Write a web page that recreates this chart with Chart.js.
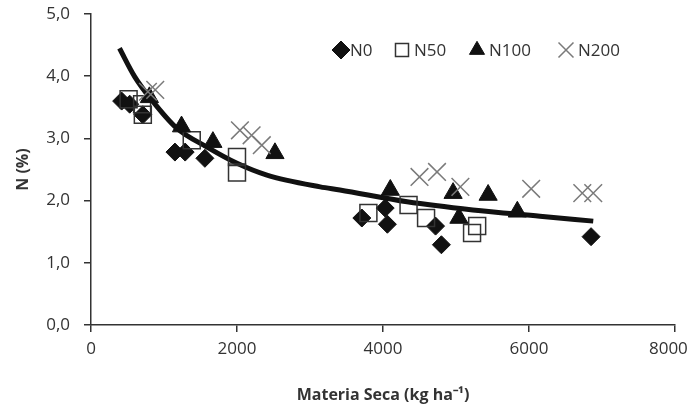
<!DOCTYPE html>
<html>
<head>
<meta charset="utf-8">
<title>N (%) vs Materia Seca</title>
<script src="https://cdn.jsdelivr.net/npm/chart.js@4.4.0/dist/chart.umd.min.js"></script>
<style>
    html, body { margin: 0; padding: 0; background: #fff; }
    #wrap { width: 689px; height: 416px; }
</style>
</head>
<body>
<div id="wrap"><canvas id="chart" width="689" height="416"></canvas></div>
<script>
// Datos (materia seca en kg/ha, N en %)
const n0X = [420, 530, 710, 1150, 1290, 1560, 3710, 4030, 4060, 4720, 4800, 6850];
const n0Y = [3.60, 3.55, 3.38, 2.78, 2.78, 2.68, 1.72, 1.88, 1.62, 1.59, 1.29, 1.42];

const n50X = [515, 700, 710, 1380, 2000, 2000, 3800, 4350, 4590, 5220, 5290];
const n50Y = [3.63, 3.55, 3.38, 2.97, 2.70, 2.45, 1.80, 1.93, 1.72, 1.48, 1.59];

const n100X = [800, 1240, 1670, 2520, 4100, 4960, 5040, 5440, 5840];
const n100Y = [3.66, 3.19, 2.94, 2.76, 2.17, 2.12, 1.72, 2.09, 1.82];

const n200X = [780, 880, 2040, 2200, 2340, 4500, 4740, 5060, 6030, 6730, 6880];
const n200Y = [3.75, 3.78, 3.13, 3.05, 2.89, 2.38, 2.46, 2.22, 2.19, 2.12, 2.12];

// Curva de dilución (leída punto a punto sobre la línea)
const curveX = [390, 600, 830, 1170, 1590, 2000, 2410, 3140, 3410, 4330, 5230, 6150, 6880];
const curveY = [4.45, 3.99, 3.62, 3.17, 2.86, 2.60, 2.41, 2.22, 2.17, 1.98, 1.85, 1.75, 1.67];

const seriesNames = ['N0', 'N50', 'N100', 'N200'];
const xTicks = [0, 2000, 4000, 6000, 8000];
const yTicks = [0, 1, 2, 3, 4, 5];

function toPoints(xs, ys) {
    return xs.map(function(x, i) { return { x: x, y: ys[i] }; });
}

const textColor = '#333';
const axisColor = '#333';

// Leyenda dibujada a mano dentro del área del gráfico
const legendPos = [
    { mx: 341, tx: 350, r: 9 },
    { mx: 402, tx: 414, r: 9.2 },
    { mx: 477, tx: 489, r: 8.7 },
    { mx: 566, tx: 578, r: 10.6 }
];

const insideLegend = {
    id: 'insideLegend',
    afterDraw: function(chart) {
        const ctx = chart.ctx;
        const y = 50;
        ctx.save();
        seriesNames.forEach(function(name, i) {
            const ds = chart.data.datasets.find(function(d) { return d.label === name; });
            const p = legendPos[i];
            ctx.fillStyle = ds.backgroundColor;
            ctx.strokeStyle = ds.borderColor;
            ctx.lineWidth = ds.borderWidth;
            Chart.helpers.drawPoint(ctx, { pointStyle: ds.pointStyle, radius: p.r, borderWidth: ds.borderWidth }, p.mx, y);
            ctx.fillStyle = textColor;
            ctx.font = '17px "Open Sans"';
            ctx.textBaseline = 'middle';
            ctx.textAlign = 'left';
            ctx.fillText(name, p.tx, y + 1);
        });
        ctx.restore();
    }
};

const ctx = document.getElementById('chart').getContext('2d');

new Chart(ctx, {
    type: 'scatter',
    data: {
        datasets: [
            {
                label: 'N200',
                data: toPoints(n200X, n200Y),
                pointStyle: 'crossRot',
                pointRadius: 12.5,
                borderColor: '#7a7a7a',
                backgroundColor: '#7a7a7a',
                borderWidth: 1.5,
                order: 0
            },
            {
                label: 'N100',
                data: toPoints(n100X, n100Y),
                pointStyle: 'triangle',
                pointRadius: 10.5,
                borderColor: '#111',
                backgroundColor: '#111',
                borderWidth: 1,
                order: 1
            },
            {
                label: 'N50',
                data: toPoints(n50X, n50Y),
                pointStyle: 'rect',
                pointRadius: 12,
                borderColor: '#333',
                backgroundColor: 'rgba(0,0,0,0)',
                borderWidth: 1.5,
                order: 2
            },
            {
                label: 'N0',
                data: toPoints(n0X, n0Y),
                pointStyle: 'rectRot',
                pointRadius: 9,
                borderColor: '#111',
                backgroundColor: '#111',
                borderWidth: 1,
                order: 3
            },
            {
                label: 'curva',
                data: toPoints(curveX, curveY),
                showLine: true,
                borderColor: '#111',
                backgroundColor: '#111',
                borderWidth: 5,
                pointRadius: 0,
                cubicInterpolationMode: 'monotone',
                order: 4
            }
        ]
    },
    options: {
        responsive: false,
        animation: false,
        devicePixelRatio: 1,
        layout: { padding: { top: 14, right: 14, bottom: 0, left: 0 } },
        plugins: {
            legend: { display: false },
            tooltip: { enabled: false }
        },
        scales: {
            x: {
                type: 'linear',
                min: 0,
                max: 8000,
                afterBuildTicks: function(s) { s.ticks = xTicks.map(function(v) { return { value: v }; }); },
                afterFit: function(s) { s.height = 91; s.paddingLeft = 0; s.paddingRight = 0; },
                ticks: {
                    color: textColor,
                    font: { family: 'Open Sans', size: 17 },
                    padding: 7,
                    maxRotation: 0,
                    callback: function(v) { return v === 8000 ? '8000   ' : String(v); }
                },
                grid: { drawOnChartArea: false, drawTicks: true, tickLength: 7, color: axisColor, lineWidth: 1.5 },
                border: { display: true, color: axisColor, width: 1.5 },
                title: {
                    display: true,
                    text: 'Materia Seca (kg ha⁻¹)',
                    color: textColor,
                    font: { family: 'Open Sans', size: 16, weight: 'bold' },
                    padding: { top: 0, bottom: 11 }
                }
            },
            y: {
                type: 'linear',
                min: 0,
                max: 5,
                afterBuildTicks: function(s) { s.ticks = yTicks.map(function(v) { return { value: v }; }); },
                afterFit: function(s) { s.width = 91; s.paddingTop = 0; s.paddingBottom = 0; },
                ticks: {
                    color: textColor,
                    font: { family: 'Open Sans', size: 17 },
                    padding: 14,
                    callback: function(v) { return v.toFixed(1).replace('.', ','); }
                },
                grid: { drawOnChartArea: false, drawTicks: true, tickLength: 7, color: axisColor, lineWidth: 1.5 },
                border: { display: true, color: axisColor, width: 1.5 },
                title: {
                    display: true,
                    text: 'N (%)',
                    color: textColor,
                    font: { family: 'Open Sans', size: 16, weight: 'bold' },
                    padding: { top: 14, bottom: 0 }
                }
            }
        }
    },
    plugins: [insideLegend]
});
</script>
</body>
</html>
